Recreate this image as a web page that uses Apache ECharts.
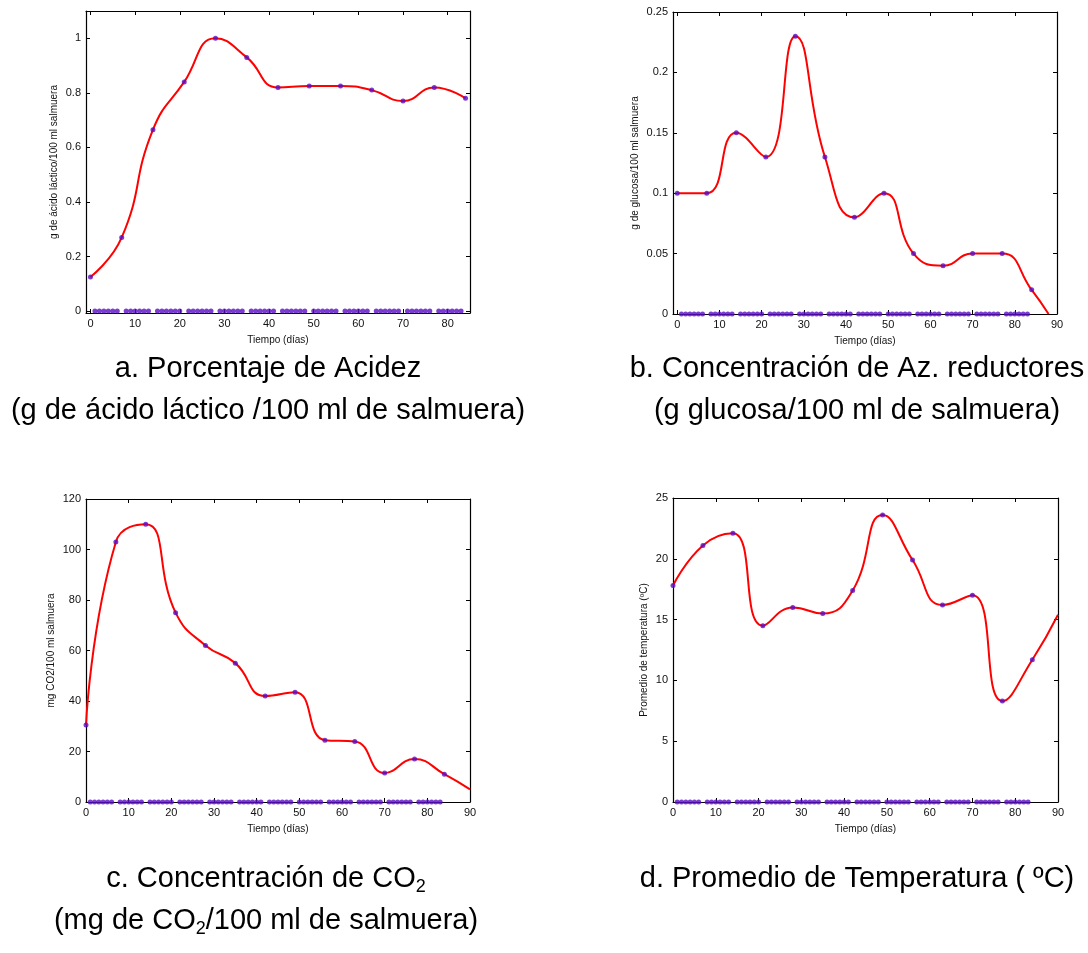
<!DOCTYPE html>
<html lang="es">
<head>
<meta charset="UTF-8">
<title>Fermentación en salmuera</title>
<script src="https://cdn.jsdelivr.net/npm/echarts@6/dist/echarts.min.js"></script>
</head>
<body style="margin:0;background:#fff">
<div id="chart" style="width:1088px;height:953px;"></div>
<script>
// muestreo semanal
var dias = [0, 7, 14, 21, 28, 35, 42, 49, 56, 63, 70, 77, 84];
var acidez = [0.125, 0.27, 0.665, 0.84, 1.0, 0.93, 0.82, 0.825, 0.825, 0.81, 0.77, 0.82, 0.78];
var azucares = [0.10, 0.10, 0.15, 0.13, 0.23, 0.13, 0.08, 0.10, 0.05, 0.04, 0.05, 0.05, 0.02];
var co2 = [30.5, 103, 110, 75, 62, 55, 42, 43.5, 24.5, 24, 11.5, 17, 11];
var temperatura = [17.8, 21.1, 22.1, 14.5, 16, 15.5, 17.4, 23.6, 19.9, 16.2, 17, 8.3, 11.7];

// donde termina la curva ajustada (despues de la ultima muestra)
var finAzucares = [88, 0];
var finCo2 = [90, 5];
var finTemp = [90, 15.4];

// dias sin muestra (se dibujan en cero)
var diasCero = [1, 2, 3, 4, 5, 6, 8, 9, 10, 11, 12, 13, 15, 16, 17, 18, 19, 20,
  22, 23, 24, 25, 26, 27, 29, 30, 31, 32, 33, 34, 36, 37, 38, 39, 40, 41,
  43, 44, 45, 46, 47, 48, 50, 51, 52, 53, 54, 55, 57, 58, 59, 60, 61, 62,
  64, 65, 66, 67, 68, 69, 71, 72, 73, 74, 75, 76, 78, 79, 80, 81, 82, 83];

var ticksX84 = [0, 10, 20, 30, 40, 50, 60, 70, 80];
var ticksX90 = [0, 10, 20, 30, 40, 50, 60, 70, 80, 90];
var ticksAcidez = [0, 0.2, 0.4, 0.6, 0.8, 1];
var ticksAzucares = [0, 0.05, 0.1, 0.15, 0.2, 0.25];
var ticksCo2 = [0, 20, 40, 60, 80, 100, 120];
var ticksTemp = [0, 5, 10, 15, 20, 25];

var fuente = 'Liberation Sans, Arial, sans-serif';
var morado = '#5a0cc4';

var paneles = [
  { grid: { left: 86, top: 11, width: 384, height: 302 }, xMin: -1, xMax: 85, yMin: -0.007, yMax: 1.1,
    tx: ticksX84, ty: ticksAcidez, nombre: 'g de ácido láctico/100 ml salmuera', gap: 27, valores: acidez, fin: null },
  { grid: { left: 673, top: 12, width: 384, height: 302 }, xMin: -1, xMax: 90, yMin: 0, yMax: 0.25,
    tx: ticksX90, ty: ticksAzucares, nombre: 'g de glucosa/100 ml salmuera', gap: 33, valores: azucares, fin: finAzucares },
  { grid: { left: 86, top: 499, width: 384, height: 303 }, xMin: 0, xMax: 90, yMin: 0, yMax: 120,
    tx: ticksX90, ty: ticksCo2, nombre: 'mg CO2/100 ml salmuera', gap: 30, valores: co2, fin: finCo2 },
  { grid: { left: 673, top: 498, width: 385, height: 304 }, xMin: 0, xMax: 90, yMin: 0, yMax: 25,
    tx: ticksX90, ty: ticksTemp, nombre: 'Promedio de temperatura (ºC)', gap: 24, valores: temperatura, fin: finTemp }
];

function eje(ticks, extra) {
  var e = {
    type: 'value',
    axisLine: { show: true, onZero: false, lineStyle: { color: '#000', width: 1.2 } },
    axisTick: { show: true, inside: true, length: 4, customValues: ticks, lineStyle: { color: '#000' } },
    axisLabel: { show: true, customValues: ticks, color: '#111', fontSize: 11, fontFamily: fuente, margin: 5 },
    splitLine: { show: false }
  };
  for (var k in extra) e[k] = extra[k];
  return e;
}

var grids = [], xAxes = [], yAxes = [], series = [];
paneles.forEach(function (p, i) {
  grids.push(p.grid);
  xAxes.push(eje(p.tx, { gridIndex: i, min: p.xMin, max: p.xMax, position: 'bottom',
    name: 'Tiempo (días)', nameLocation: 'middle', nameGap: 22,
    nameTextStyle: { fontSize: 10, fontFamily: fuente, color: '#111' } }));
  var arriba = eje(p.tx, { gridIndex: i, min: p.xMin, max: p.xMax, position: 'top' });
  arriba.axisLabel.show = false;
  xAxes.push(arriba);
  yAxes.push(eje(p.ty, { gridIndex: i, min: p.yMin, max: p.yMax, position: 'left',
    name: p.nombre, nameLocation: 'middle', nameGap: p.gap,
    nameTextStyle: { fontSize: 10, fontFamily: fuente, color: '#111' } }));
  var derecha = eje(p.ty, { gridIndex: i, min: p.yMin, max: p.yMax, position: 'right' });
  derecha.axisLabel.show = false;
  yAxes.push(derecha);

  var puntos = dias.map(function (d, j) { return [d, p.valores[j]]; });
  var curva = puntos.slice();
  if (p.fin) curva.push(p.fin);
  series.push({
    type: 'line', xAxisIndex: 2 * i, yAxisIndex: 2 * i, data: curva, smooth: 0.5,
    showSymbol: false, clip: true, lineStyle: { color: '#ff0000', width: 2 }, z: 3
  });
  series.push({
    type: 'scatter', xAxisIndex: 2 * i, yAxisIndex: 2 * i, data: puntos,
    symbolSize: 5, itemStyle: { color: morado }, z: 4
  });
  series.push({
    type: 'scatter', xAxisIndex: 2 * i, yAxisIndex: 2 * i,
    data: diasCero.map(function (d) { return [d, 0]; }),
    symbolSize: 5, itemStyle: { color: morado }, z: 4
  });
});

function texto(x, y, t, rich) {
  var s = { text: t, x: 0, y: 0, fontSize: 29, fontFamily: fuente, fill: '#000',
    align: 'center', verticalAlign: 'middle', lineHeight: 34 };
  if (rich) s.rich = { s: { fontSize: 18, fontFamily: fuente, fill: '#000', lineHeight: 18, verticalAlign: 'bottom' } };
  return { type: 'text', x: x, y: y, silent: true, style: s };
}

var chart = echarts.init(document.getElementById('chart'), null, { renderer: 'canvas' });
chart.setOption({
  animation: false,
  backgroundColor: '#fff',
  grid: grids,
  xAxis: xAxes,
  yAxis: yAxes,
  series: series,
  graphic: [
    texto(268, 369, 'a. Porcentaje de Acidez'),
    texto(268, 411, '(g de ácido láctico /100 ml de salmuera)'),
    texto(857, 369, 'b. Concentración de Az. reductores'),
    texto(857, 411, '(g glucosa/100 ml de salmuera)'),
    texto(266, 879, 'c. Concentración de CO{s|2}', true),
    texto(266, 921, '(mg de CO{s|2}/100 ml de salmuera)', true),
    texto(857, 879, 'd. Promedio de Temperatura ( ºC)')
  ]
});
</script>
</body>
</html>
